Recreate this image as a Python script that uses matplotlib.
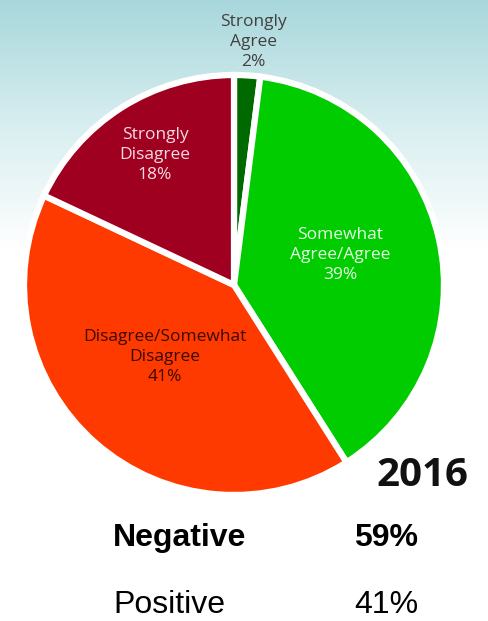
import matplotlib.pyplot as plt
import numpy as np
from matplotlib.colors import LinearSegmentedColormap

# podaci
kategorije = ["Strongly\nAgree", "Somewhat\nAgree/Agree", "Disagree/Somewhat\nDisagree", "Strongly\nDisagree"]
procenti = [2, 39, 41, 18]
boje = ["#006a00", "#00cc00", "#ff3a00", "#a00020"]
boje_teksta = ["#404040", "#e6ffe6", "#3a0800", "#f5dbe2"]
godina = "2016"
negativno = procenti[2] + procenti[3]
pozitivno = procenti[0] + procenti[1]

W, H = 488, 621
fig = plt.figure(figsize=(W / 100, H / 100), dpi=100)
ax = fig.add_axes([0, 0, 1, 1])

# pozadina - gradijent od tirkizne ka beloj
cmap = LinearSegmentedColormap.from_list("bg", ["#ffffff", "#d8eef0", "#a8d7db"])
grad = np.linspace(0, 1, 300).reshape(-1, 1)
ax.imshow(grad, cmap=cmap, extent=[0, W, H - 250, H], aspect="auto", origin="lower", zorder=0)

cx, cy, r = 234, H - 285, 210
wedges, _ = ax.pie(procenti, colors=boje, startangle=90, counterclock=False,
                   center=(cx, cy), radius=r,
                   wedgeprops=dict(edgecolor="white", linewidth=4.5))
for w in wedges:
    w.set_zorder(2)

# oznake na isecima
pozicije = [(253, 42), (340, 255), (165, 357), (155, 155)]
for (x, y), naziv, p, c in zip(pozicije, kategorije, procenti, boje_teksta):
    ax.text(x, H - y, f"{naziv}\n{p}%", ha="center", va="center", fontsize=12.5,
            family="Open Sans", color=c, linespacing=1.3, zorder=3)

ax.text(468, H - 475, godina, ha="right", va="center", fontsize=29,
        family="Open Sans", weight="bold", color="#111111", zorder=3)

ax.text(113, H - 538, "Negative", ha="left", va="center", fontsize=23,
        family="Liberation Sans", weight="bold", color="black")
ax.text(418, H - 538, f"{negativno}%", ha="right", va="center", fontsize=23,
        family="Liberation Sans", weight="bold", color="black")
ax.text(113, H - 605, "Positive", ha="left", va="center", fontsize=23,
        family="Liberation Sans", color="black")
ax.text(418, H - 605, f"{pozitivno}%", ha="right", va="center", fontsize=23,
        family="Liberation Sans", color="black")

ax.set_xlim(0, W)
ax.set_ylim(0, H)
ax.set_aspect("auto")
ax.axis("off")

fig.savefig("out.png", dpi=100)
